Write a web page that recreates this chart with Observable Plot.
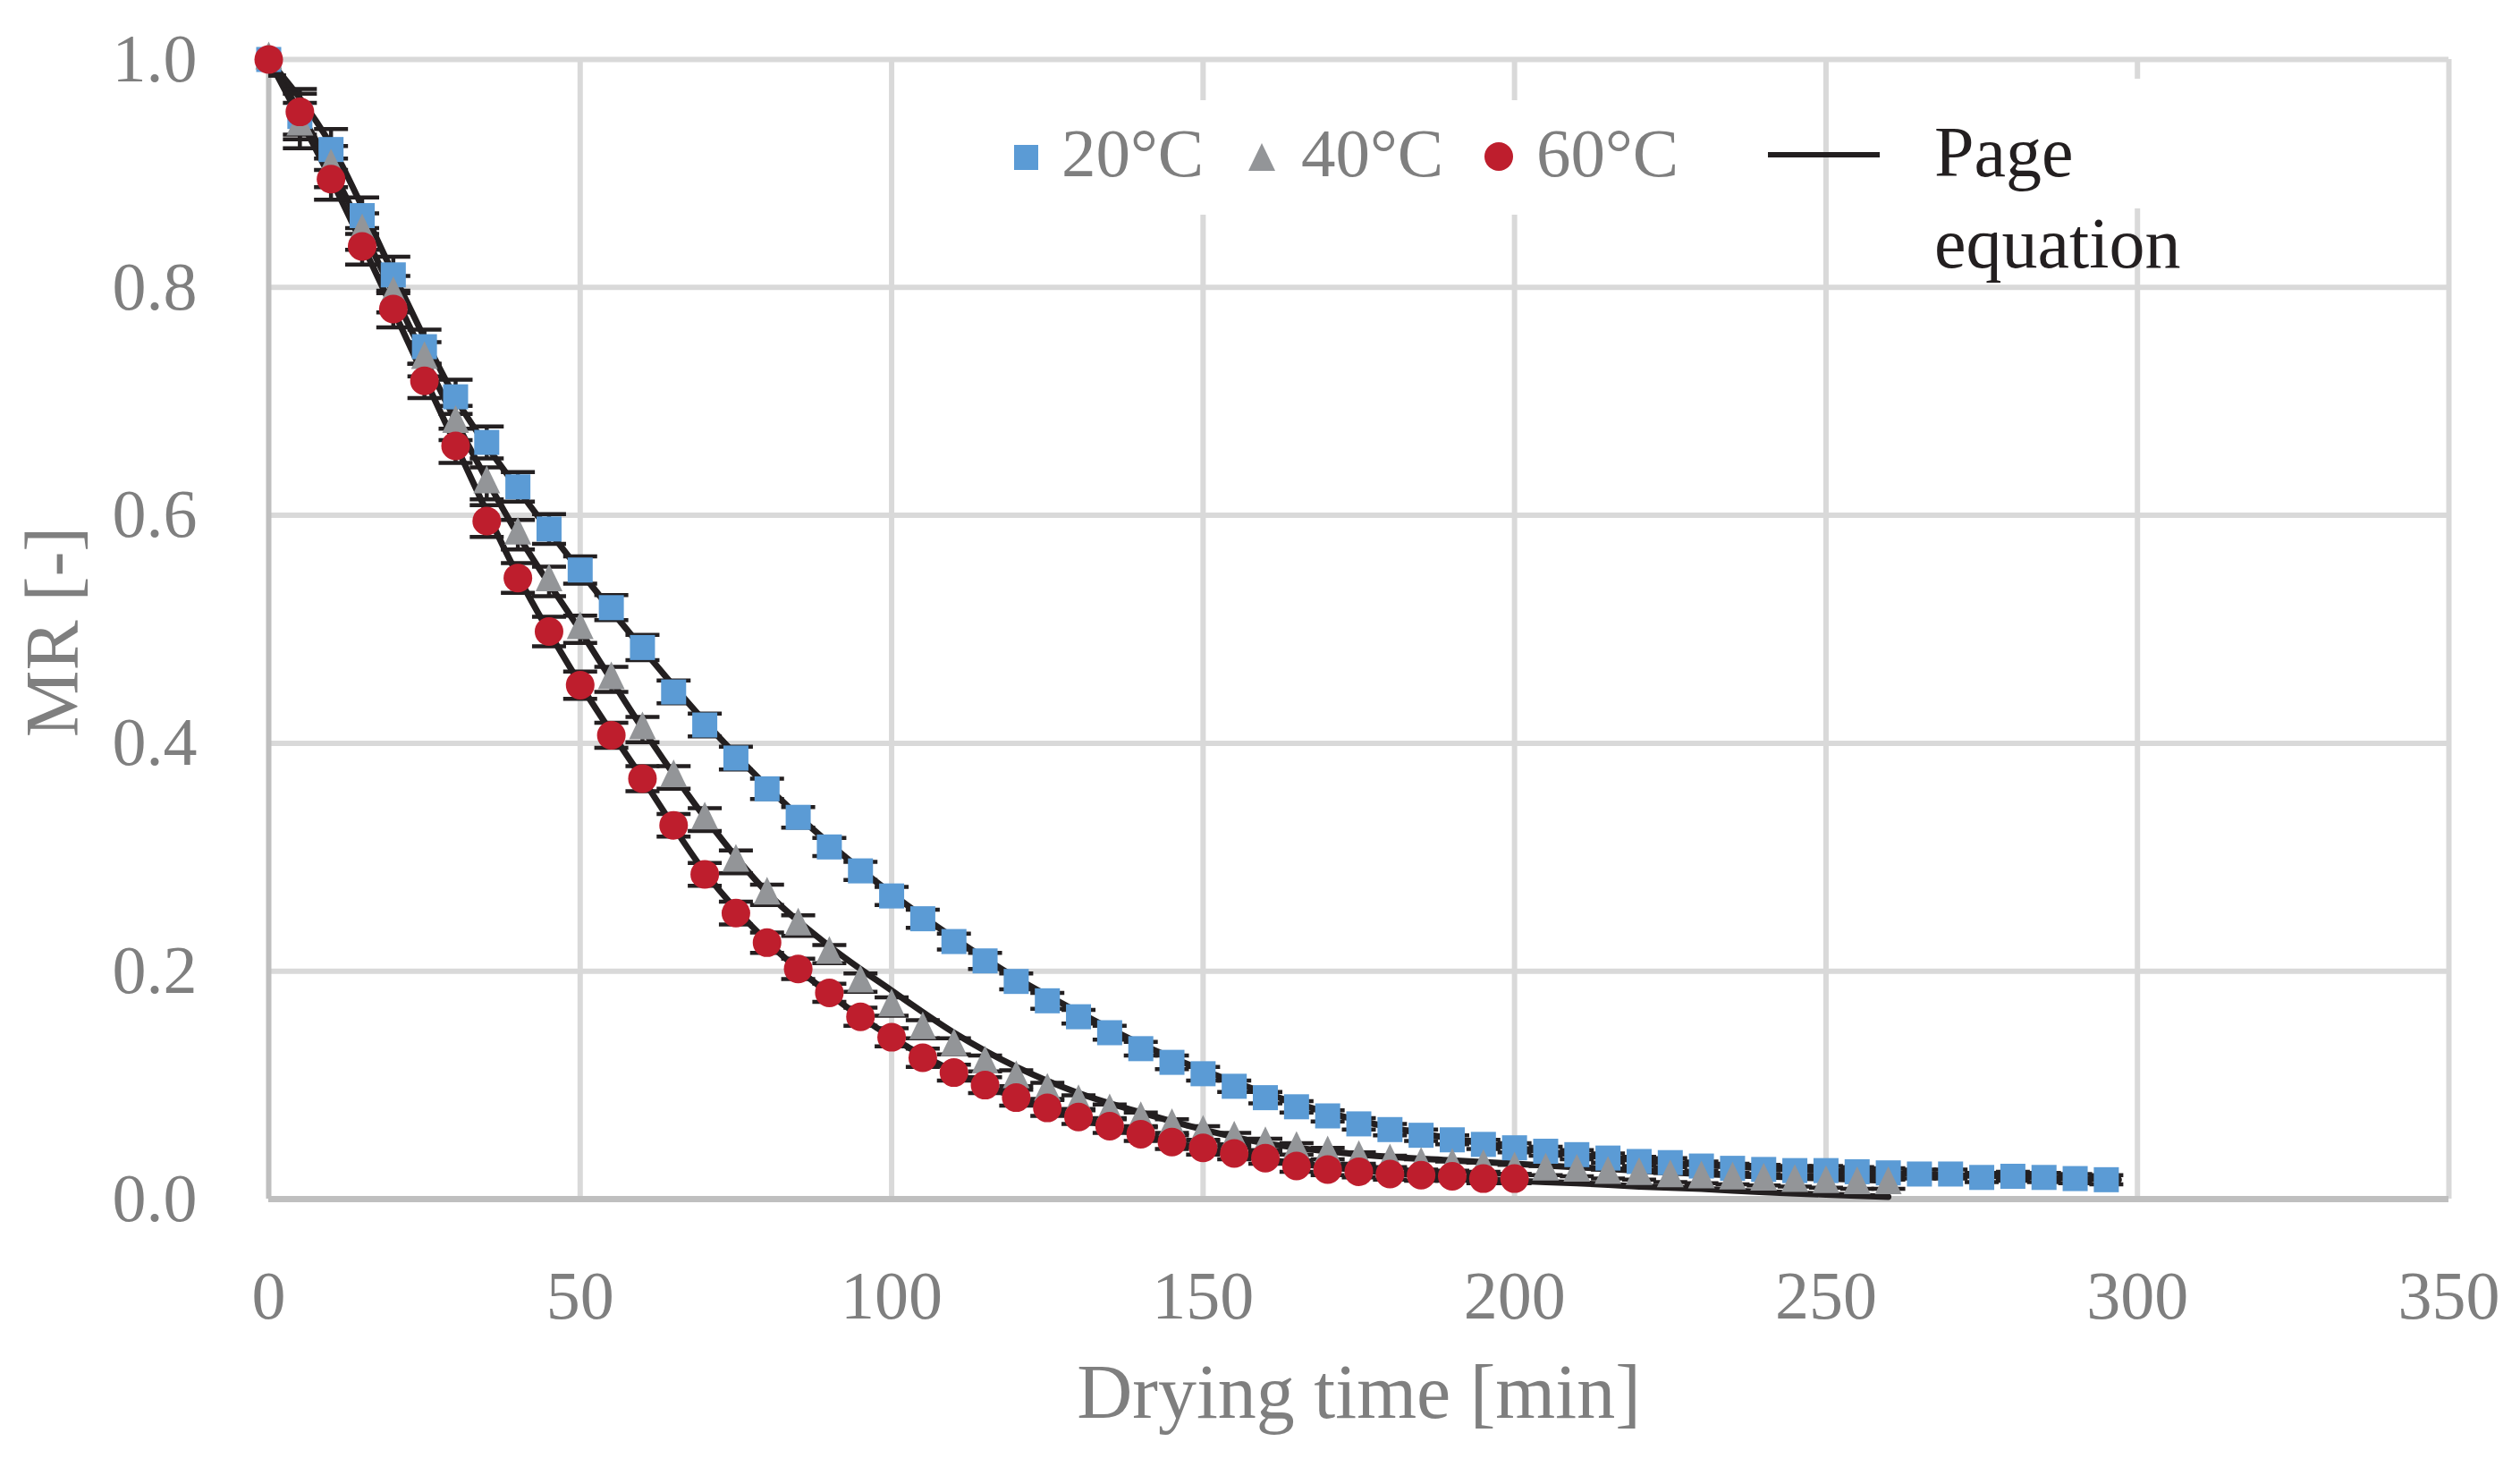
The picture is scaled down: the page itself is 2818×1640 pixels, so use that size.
<!DOCTYPE html>
<html>
<head>
<meta charset="utf-8">
<script src="https://cdn.jsdelivr.net/npm/d3@7"></script>
<script src="https://cdn.jsdelivr.net/npm/@observablehq/plot@0.6"></script>
<style>
  html, body { margin: 0; padding: 0; background: #fff; overflow: hidden; }
  #wrap { position: relative; width: 2818px; height: 1640px; }
  #legend { position: absolute; left: 0; top: 0; pointer-events: none; }
</style>
</head>
<body>
<div id="wrap"></div>
<script>
// ---------- data ----------
const xTicks = [0, 50, 100, 150, 200, 250, 300, 350];
const yTicks = [0, 0.2, 0.4, 0.6, 0.8, 1.0];
const seriesNames = ["20°C", "40°C", "60°C"];

const t20 = [0,5,10,15,20,25,30,35,40,45,50,55,60,65,70,75,80,85,90,95,100,105,110,115,120,125,130,135,140,145,
  150,155,160,165,170,175,180,185,190,195,200,205,210,215,220,225,230,235,240,245,250,255,260,265,270,275,280,285,290,295];
const mr20 = [
  1.000,0.950,0.921,0.863,0.811,0.748,0.704,0.664,0.625,0.588,
  0.552,0.519,0.484,0.445,0.416,0.387,0.360,0.335,0.309,0.288,
  0.266,0.246,0.226,0.209,0.191,0.174,0.160,0.146,0.132,0.120,
  0.110,0.099,0.089,0.081,0.073,0.066,0.061,0.056,0.052,0.048,
  0.045,0.042,0.039,0.036,0.033,0.032,0.029,0.027,0.026,0.025,
  0.025,0.024,0.023,0.022,0.022,0.019,0.020,0.019,0.018,0.017];

const t40 = [0,5,10,15,20,25,30,35,40,45,50,55,60,65,70,75,80,85,90,95,100,105,110,115,120,125,130,135,140,145,
  150,155,160,165,170,175,180,185,190,195,200,205,210,215,220,225,230,235,240,245,250,255,260];
const mr40 = [
  1.000,0.942,0.906,0.849,0.794,0.737,0.681,0.628,0.583,0.542,
  0.500,0.456,0.412,0.370,0.333,0.296,0.267,0.240,0.215,0.190,
  0.169,0.149,0.134,0.119,0.106,0.095,0.085,0.077,0.070,0.064,
  0.058,0.053,0.048,0.044,0.040,0.036,0.033,0.030,0.029,0.028,
  0.026,0.025,0.024,0.022,0.021,0.019,0.018,0.017,0.016,0.015,
  0.014,0.013,0.013];

const t60 = [0,5,10,15,20,25,30,35,40,45,50,55,60,65,70,75,80,85,90,95,100,105,110,115,120,125,130,135,140,145,
  150,155,160,165,170,175,180,185,190,195,200];
const mr60 = [
  1.000,0.954,0.895,0.836,0.781,0.718,0.661,0.595,0.545,0.498,
  0.451,0.407,0.369,0.328,0.285,0.251,0.225,0.202,0.181,0.160,
  0.142,0.124,0.111,0.100,0.089,0.080,0.072,0.064,0.057,0.050,
  0.045,0.040,0.036,0.029,0.026,0.024,0.022,0.021,0.020,0.018,
  0.018];

// standard deviation (error bar half-length) by time step
const errBars = [
  0.014,0.020,0.018,0.016,0.016,0.015,0.015,0.014,0.013,0.013,
  0.012,0.011,0.011,0.010,0.010,0.010,0.009,0.009,0.008,0.008,
  0.008,0.008,0.007,0.007,0.007,0.007,0.006,0.006,0.006,0.006,
  0.006,0.005,0.005,0.005,0.005,0.005,0.005,0.005,0.004,0.004,
  0.004,0.004,0.004,0.004,0.004,0.004,0.004,0.004,0.004,0.004,
  0.004,0.004,0.004,0.004,0.004,0.004,0.004,0.004,0.004,0.004];

// Page equation curves
const fitT20 = [0,10,20,30,40,50,60,70,80,90,100,110,120,130,140,150,160,170,180,190,200,210,220,230,240,250,260,270,280,290,297];
const fit20 = [1.000,0.925,0.812,0.703,0.623,0.551,0.483,0.419,0.362,0.312,0.268,0.229,0.194,0.164,0.136,0.113,0.093,0.076,0.063,0.053,0.045,0.039,0.034,0.030,0.027,0.025,0.023,0.021,0.020,0.018,0.017];
const fitT40 = [0,10,20,30,40,50,60,70,80,90,100,110,120,130,140,150,160,170,180,190,200,210,220,230,240,250,260];
const fit40 = [1.000,0.905,0.795,0.683,0.583,0.499,0.413,0.335,0.269,0.222,0.183,0.146,0.116,0.093,0.076,0.061,0.049,0.042,0.037,0.034,0.031,0.028,0.025,0.022,0.020,0.018,0.016];
const fitT60 = [0,10,20,30,40,50,60,70,80,90,100,110,120,130,140,150,160,170,180,190,200,210,220,230,240,250,260];
const fit60 = [1.000,0.895,0.780,0.662,0.547,0.452,0.369,0.287,0.226,0.180,0.142,0.112,0.089,0.071,0.056,0.044,0.035,0.028,0.023,0.019,0.016,0.014,0.011,0.009,0.006,0.004,0.002];

// ---------- styling ----------
const FONT = "'Liberation Serif', 'Times New Roman', serif";
const TXT = "#7f7f7f";
const INK = "#231f20";
const COLORS = ["#5b9bd5", "#939598", "#be1e2d"];

// ---------- tables ----------
const obs = (ts, ms, s) => ts.map((t, i) => ({t, mr: ms[i], e: errBars[i], series: s}));
const obs20 = obs(t20, mr20, seriesNames[0]);
const obs40 = obs(t40, mr40, seriesNames[1]);
const obs60 = obs(t60, mr60, seriesNames[2]);
const allObs = [...obs20, ...obs40, ...obs60];
const fits = [
  ...fitT20.map((t, i) => ({t, mr: fit20[i], series: seriesNames[0]})),
  ...fitT40.map((t, i) => ({t, mr: fit40[i], series: seriesNames[1]})),
  ...fitT60.map((t, i) => ({t, mr: fit60[i], series: seriesNames[2]}))
];

// ---------- custom marker symbols ----------
const squareSym = {draw(c) { c.moveTo(-14, -14); c.lineTo(14, -14); c.lineTo(14, 14); c.lineTo(-14, 14); c.closePath(); }};
const triSym = {draw(c) { c.moveTo(0, -20); c.lineTo(15, 11); c.lineTo(-15, 11); c.closePath(); }};
const circSym = {draw(c) { c.moveTo(16, 0); c.arc(0, 0, 16, 0, 2 * Math.PI); c.closePath(); }};
const capSym = {draw(c) { c.moveTo(-19, 0); c.lineTo(19, 0); }};

const chart = Plot.plot({
  width: 2818,
  height: 1640,
  marginLeft: 300,
  marginRight: 80,
  marginTop: 66,
  marginBottom: 300,
  style: {fontFamily: FONT, fontSize: "76px", color: TXT, background: "white", overflow: "visible"},
  x: {domain: [0, 350], ticks: xTicks, tickSize: 0, tickPadding: 80, label: null},
  y: {domain: [0, 1], ticks: yTicks, tickFormat: d => d.toFixed(1), tickSize: 0, tickPadding: 80, label: null},
  marks: [
    Plot.ruleX(xTicks.filter(d => d > 0), {stroke: "#d9d9d9", strokeWidth: 6}),
    Plot.ruleY(yTicks.filter(d => d > 0), {stroke: "#d9d9d9", strokeWidth: 6}),
    Plot.ruleX([0], {stroke: "#bfbfbf", strokeWidth: 6}),
    Plot.ruleY([0], {stroke: "#bfbfbf", strokeWidth: 7}),
    Plot.line(fits, {x: "t", y: "mr", z: "series", stroke: INK, strokeWidth: 7, curve: "monotone-x"}),
    Plot.ruleX(allObs, {x: "t", y1: d => d.mr - d.e, y2: d => d.mr + d.e, stroke: INK, strokeWidth: 4.5, clip: true}),
    Plot.dot(allObs, {x: "t", y: d => d.mr + d.e, symbol: capSym, fill: "none", stroke: INK, strokeWidth: 4.5, clip: true}),
    Plot.dot(allObs, {x: "t", y: d => d.mr - d.e, symbol: capSym, fill: "none", stroke: INK, strokeWidth: 4.5, clip: true}),
    Plot.dot(obs20, {x: "t", y: "mr", symbol: squareSym, fill: COLORS[0], stroke: "none"}),
    Plot.dot(obs40, {x: "t", y: "mr", symbol: triSym, fill: COLORS[1], stroke: "none"}),
    Plot.dot(obs60, {x: "t", y: "mr", symbol: circSym, fill: COLORS[2], stroke: "none"}),
    Plot.text(["Drying time [min]"], {text: d => d, frameAnchor: "bottom", lineAnchor: "middle", textAnchor: "middle", dy: 217, fontSize: 86, fill: TXT}),
    Plot.text(["MR [-]"], {text: d => d, frameAnchor: "left", lineAnchor: "middle", textAnchor: "middle", dx: -240, dy: 3, rotate: -90, fontSize: 84, fill: TXT})
  ]
});

const wrap = document.getElementById("wrap");
wrap.appendChild(chart);

// ---------- legend overlay ----------
const ns = "http://www.w3.org/2000/svg";
const leg = document.createElementNS(ns, "svg");
leg.setAttribute("id", "legend");
leg.setAttribute("width", 2818);
leg.setAttribute("height", 1640);
leg.style.fontFamily = FONT;
const add = (tag, attrs, text) => {
  const el = document.createElementNS(ns, tag);
  for (const k in attrs) el.setAttribute(k, attrs[k]);
  if (text != null) el.textContent = text;
  leg.appendChild(el);
  return el;
};
add("rect", {x: 1108, y: 112, width: 800, height: 128, fill: "white"});
add("rect", {x: 2150, y: 88, width: 320, height: 145, fill: "white"});
add("rect", {x: 1134, y: 162, width: 27, height: 28, fill: COLORS[0]});
add("text", {x: 1187, y: 197, "font-size": 77, fill: TXT}, seriesNames[0]);
add("polygon", {points: "1411,160 1426,191 1396,191", fill: COLORS[1]});
add("text", {x: 1455, y: 197, "font-size": 77, fill: TXT}, seriesNames[1]);
add("circle", {cx: 1676, cy: 175, r: 16, fill: COLORS[2]});
add("text", {x: 1718, y: 197, "font-size": 77, fill: TXT}, seriesNames[2]);
add("line", {x1: 1977, x2: 2102, y1: 173, y2: 173, stroke: INK, "stroke-width": 6});
add("text", {x: 2163, y: 197, "font-size": 80, fill: INK}, "Page");
add("text", {x: 2163, y: 299, "font-size": 80, fill: INK}, "equation");
wrap.appendChild(leg);
</script>
</body>
</html>
